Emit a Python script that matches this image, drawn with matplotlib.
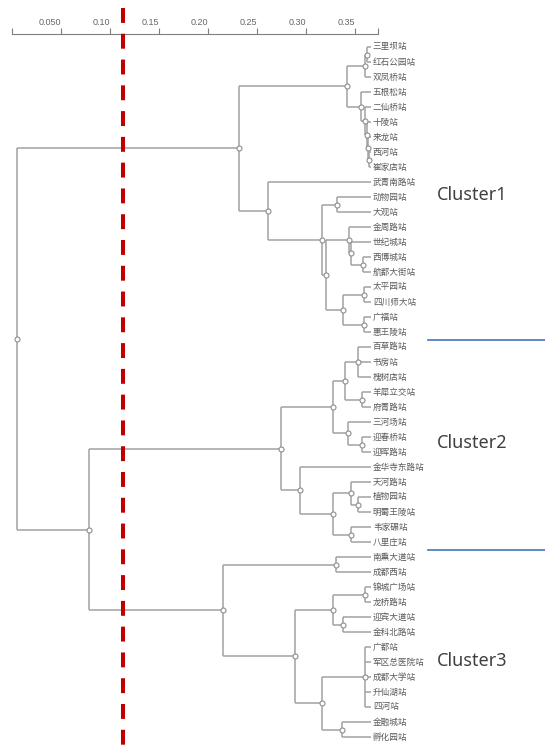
import matplotlib
matplotlib.use('Agg')
import matplotlib.pyplot as plt
import numpy as np

plt.rcParams['font.family'] = ['Noto Sans CJK SC', 'DejaVu Sans']

# ---------------- data ----------------
stations = [
    "三里坝站", "红石公园站", "双凤桥站", "五根松站", "二仙桥站", "十陵站", "来龙站",
    "西河站", "崔家店站", "武青南路站", "动物园站", "大观站", "金周路站", "世纪城站",
    "西博城站", "航都大街站", "太平园站", "四川师大站", "广福站", "惠王陵站",
    "百草路站", "书房站", "槐树店站", "羊犀立交站", "府青路站", "三河场站", "迎春桥站",
    "迎晖路站", "金华寺东路站", "天河路站", "植物园站", "明蜀王陵站", "韦家碾站", "八里庄站",
    "南熏大道站", "成都西站", "锦城广场站", "龙桥路站", "迎宾大道站", "金科北路站",
    "广都站", "军区总医院站", "成都大学站", "升仙湖站", "四河站", "金融城站", "孵化园站",
]
N = len(stations)

# merges: children (leaf index, or N + k for the k-th merge) and similarity level
merge_children = [
    (0, 1), (47, 2), (7, 8), (6, 49), (5, 50), (4, 51), (3, 52), (48, 53),
    (10, 11), (14, 15), (13, 56), (12, 57), (16, 17), (18, 19), (59, 60),
    (58, 61), (55, 62), (9, 63), (54, 64),
    (20, 21, 22), (23, 24), (66, 67), (26, 27), (25, 69), (68, 70),
    (30, 31), (29, 72), (32, 33), (73, 74), (28, 75), (71, 76),
    (34, 35), (36, 37), (38, 39), (79, 80), (40, 41, 42, 43, 44), (45, 46),
    (82, 83), (81, 84), (78, 85), (77, 86), (65, 87),
]
merge_levels = [
    0.362, 0.360, 0.364, 0.363, 0.362, 0.360, 0.356, 0.342,
    0.332, 0.358, 0.346, 0.344, 0.359, 0.359, 0.338,
    0.320, 0.316, 0.261, 0.232,
    0.353, 0.357, 0.340, 0.357, 0.343, 0.328,
    0.353, 0.346, 0.346, 0.328, 0.294, 0.274,
    0.331, 0.360, 0.338, 0.328, 0.360, 0.337,
    0.316, 0.289, 0.215, 0.079, 0.005,
]
leaf_level = 0.366
cut_level = 0.113

tick_values = [0.05, 0.10, 0.15, 0.20, 0.25, 0.30, 0.35]
tick_labels = ["0.050", "0.10", "0.15", "0.20", "0.25", "0.30", "0.35"]
axis_range = (0.0, 0.3735)

cluster_names = ["Cluster1", "Cluster2", "Cluster3"]
cluster_label_pos = [9.9, 26.4, 40.9]
cluster_borders = [19.5, 33.5]

# ---------------- figure ----------------
W, H = 545, 746
fig = plt.figure(figsize=(W / 100, H / 100), dpi=100)
ax = fig.add_axes([0, 0, 1, (H - 34) / H])
ax.set_xlim(-12 / 980, (W - 12) / 980)
ax.set_ylim((H - 47) / 15, (34 - 47) / 15)

line_col = '#a2a2a2'

xs = {i: leaf_level for i in range(N)}
ys = {i: float(i) for i in range(N)}
for k, (ch, lv) in enumerate(zip(merge_children, merge_levels)):
    nid = N + k
    xs[nid] = lv
    ys[nid] = float(np.mean([ys[c] for c in ch]))
    cy = [ys[c] for c in ch]
    ax.plot([lv, lv], [min(cy), max(cy)], color=line_col, lw=1.1, zorder=2,
            solid_capstyle='butt')
    for c in ch:
        ax.plot([lv, xs[c]], [ys[c], ys[c]], color=line_col, lw=1.1, zorder=2,
                solid_capstyle='butt')

for k in range(len(merge_children)):
    nid = N + k
    ax.plot(xs[nid], ys[nid], marker='o', ms=3.6, mfc='white', mec='#8e8e8e',
            mew=0.8, zorder=3)

for i, s in enumerate(stations):
    ax.text(leaf_level + 0.0022, i, s, ha='left', va='center', fontsize=6.2,
            color='#5a5a5a')

# cut line
ax.plot([cut_level, cut_level], [(8 - 47) / 15, (H - 47) / 15], color='#c00000',
        lw=2.9, dashes=(3.7, 2.7), clip_on=False, zorder=4)

# cluster separators and names
for b in cluster_borders:
    ax.plot([(428 - 12) / 980, (W - 12) / 980], [b, b], color='#4472c4', lw=1.2,
            clip_on=False)
for name, yv in zip(cluster_names, cluster_label_pos):
    ax.text((437 - 12) / 980, yv, name, ha='left', va='center', fontsize=13,
            color='#404040', family=['Noto Sans', 'DejaVu Sans'])

# top axis
for sp in ['left', 'right', 'bottom']:
    ax.spines[sp].set_visible(False)
ax.spines['top'].set_bounds(*axis_range)
ax.spines['top'].set_color('#7f7f7f')
ax.spines['top'].set_linewidth(0.8)
ax.set_yticks([])
ax.xaxis.tick_top()
ax.set_xticks(tick_values)
ax.set_xticklabels(tick_labels)
ax.set_xticks(list(axis_range), minor=True)
ax.tick_params(axis='x', which='both', direction='out', length=4, width=0.8,
               color='#7f7f7f', pad=1, labelsize=6.5, labelcolor='#666666')
for lbl in ax.get_xticklabels():
    lbl.set_ha('right')
    lbl.set_family(['Liberation Sans', 'DejaVu Sans'])
ax.patch.set_visible(False)

fig.savefig('out.png', dpi=100)
